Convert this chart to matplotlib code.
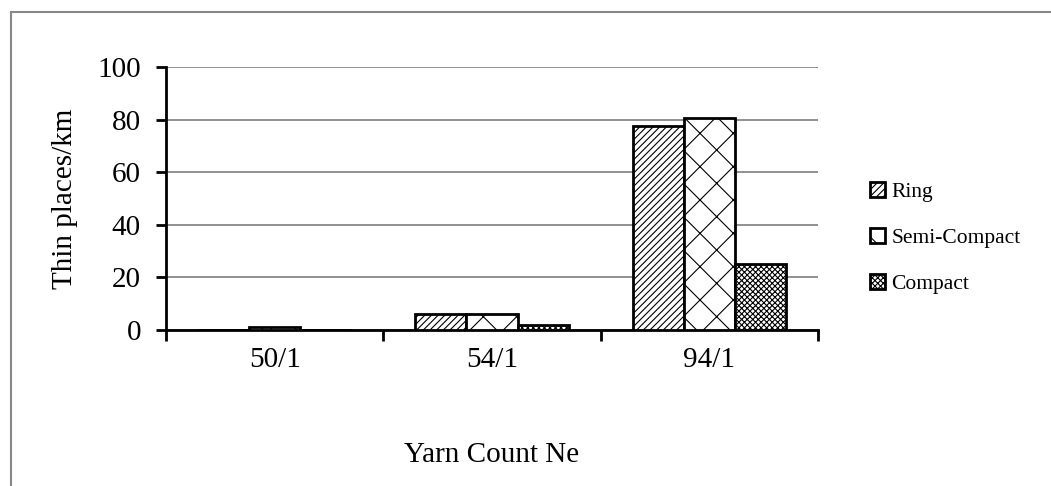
import numpy as np
import matplotlib.pyplot as plt
from matplotlib.patches import Rectangle

counts = ['50/1', '54/1', '94/1']
series = ['Ring', 'Semi-Compact', 'Compact']
ring = [0, 6, 77.5]
semi_compact = [1, 6, 80.5]
compact = [0, 2, 25]
hatches = ['/////', 'x', 'xxxxxx']

plt.rcParams['font.family'] = ['Liberation Serif', 'DejaVu Serif']
plt.rcParams['hatch.linewidth'] = 0.8

fig = plt.figure(figsize=(10.51, 4.86), dpi=100)
ax = fig.add_axes([166 / 1051, 1 - 330 / 486, (818 - 166) / 1051, (330 - 67) / 486])

x = np.arange(len(counts)) + 0.5
w = 0.235
for i, (vals, h) in enumerate(zip([ring, semi_compact, compact], hatches)):
    ax.bar(x + (i - 1) * w, vals, w, color='white', edgecolor='black',
           linewidth=2, hatch=h, label=series[i], zorder=3)

ax.set_xlim(0, 3)
ax.set_ylim(0, 100)
ax.set_yticks(range(0, 101, 20))
ax.set_xticks([0, 1, 2, 3])
ax.set_xticks(x, minor=True)
ax.set_xticklabels([])
ax.set_xticklabels(counts, minor=True, fontsize=21)
ax.tick_params(axis='x', which='minor', length=0, pad=12)
ax.tick_params(axis='x', which='major', length=8, width=2, direction='out')
ax.tick_params(axis='y', length=7, width=2, labelsize=21, pad=11)
ax.yaxis.grid(True, color='#888888', linewidth=1.3, zorder=0)
for s in ['top', 'right']:
    ax.spines[s].set_visible(False)
for s in ['left', 'bottom']:
    ax.spines[s].set_linewidth(2)

ax.set_ylabel('Thin places/km', fontsize=21, labelpad=14)
ax.set_xlabel('Yarn Count Ne', fontsize=21, labelpad=50)

ax.legend(loc='center left', bbox_to_anchor=(1.05, 0.35), frameon=False,
          fontsize=15.5, handlelength=0.7, handleheight=0.7, handletextpad=0.3,
          labelspacing=1.2)

fig.patches.append(Rectangle((11 / 1051, -0.1), 1.2, 1.1 - 12 / 486,
                             transform=fig.transFigure, fill=False,
                             edgecolor='#888888', linewidth=1.5))

fig.savefig('out.png', dpi=100)
